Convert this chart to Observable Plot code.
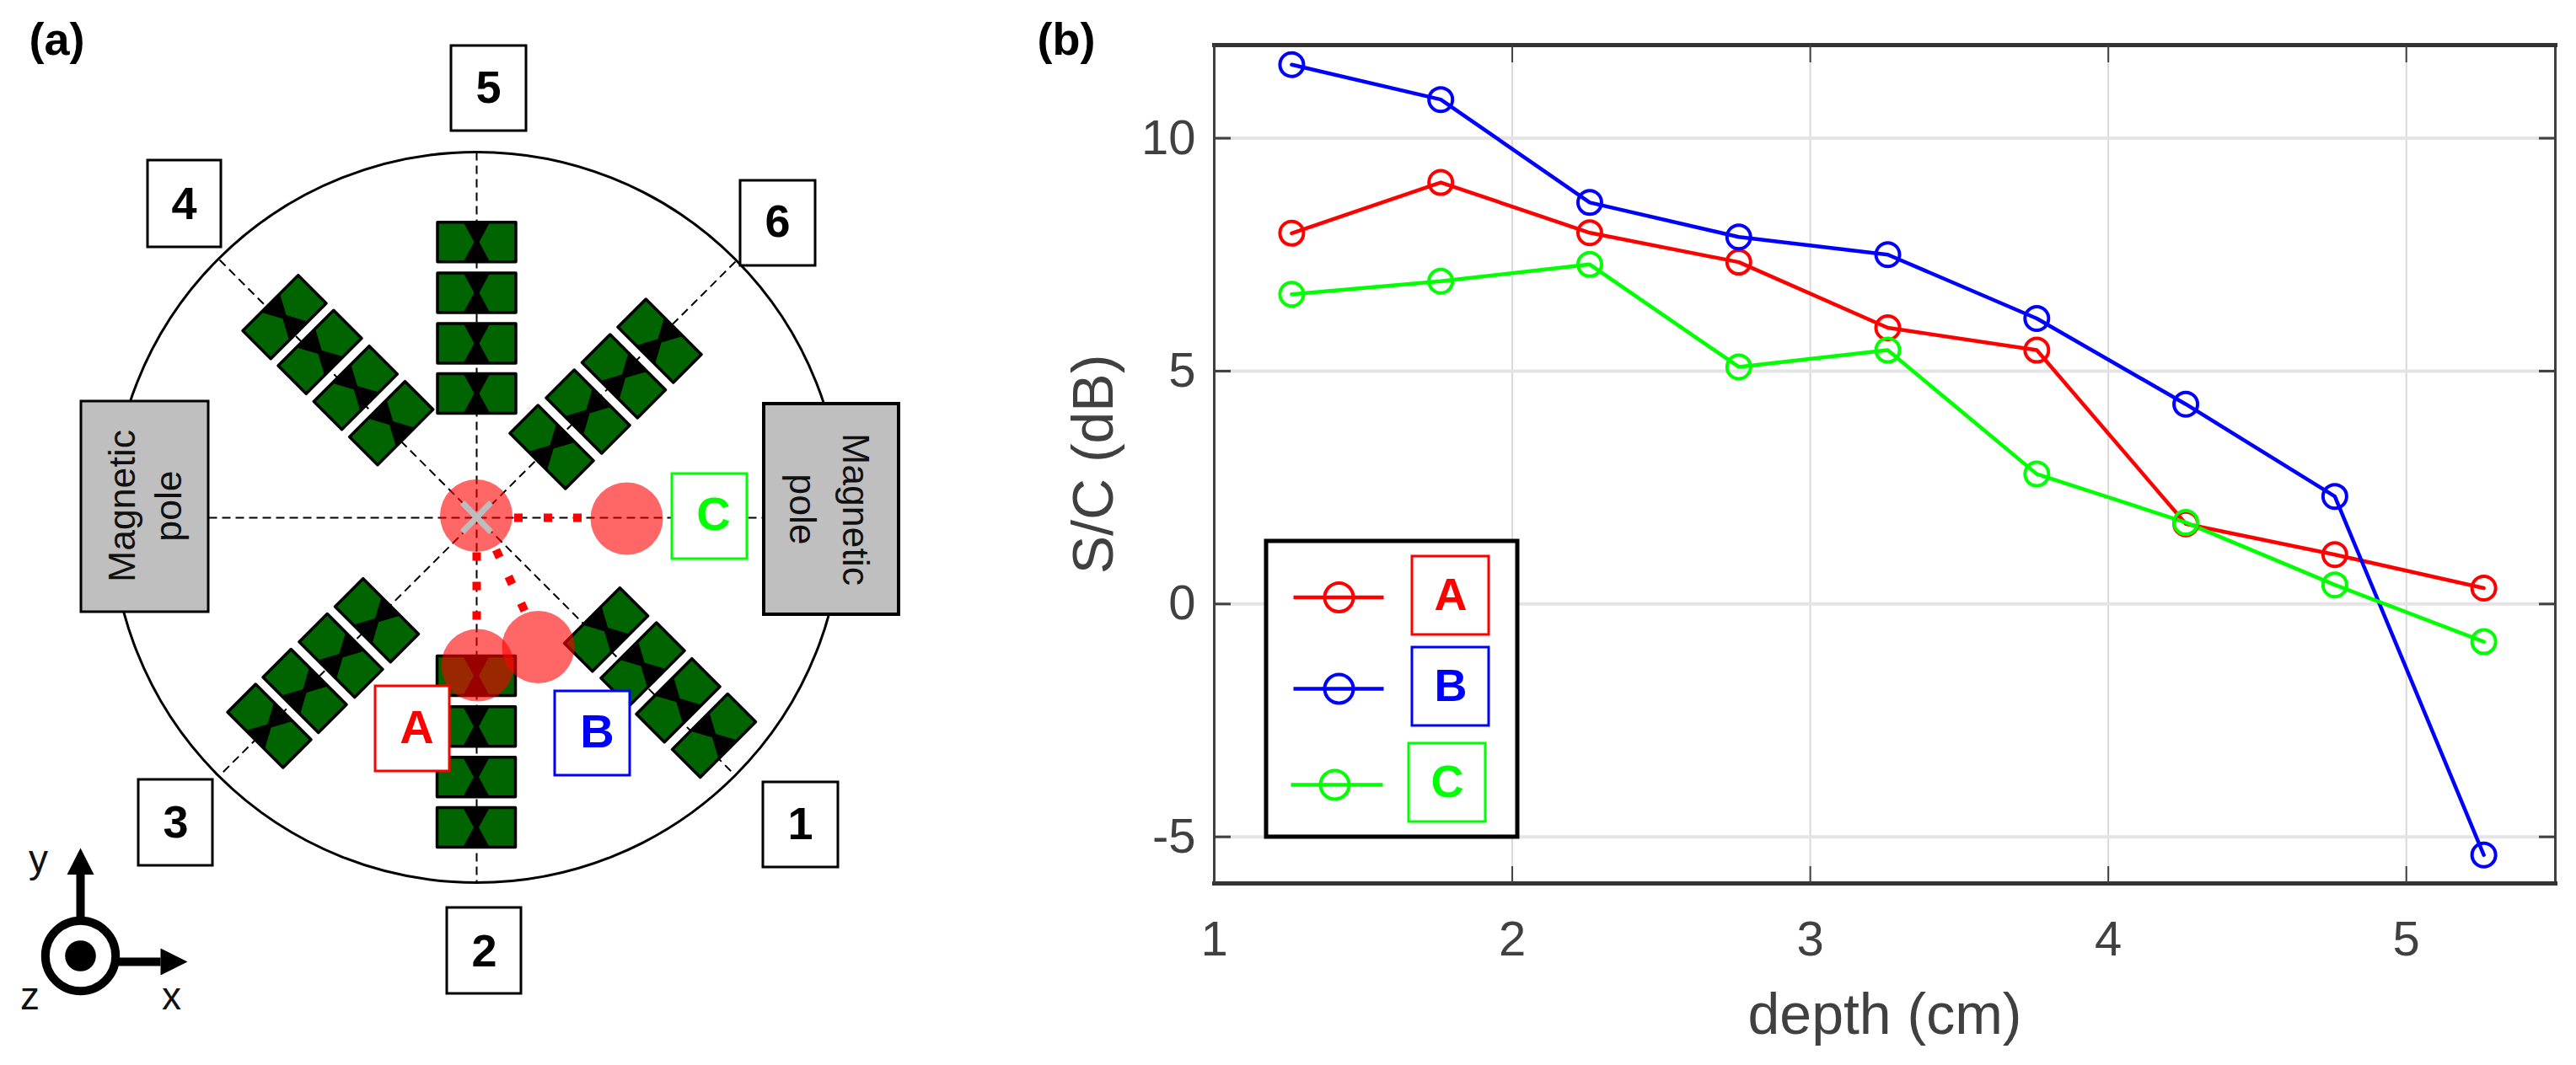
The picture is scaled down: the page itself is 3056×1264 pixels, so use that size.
<!DOCTYPE html>
<html>
<head>
<meta charset="utf-8">
<script src="https://cdn.jsdelivr.net/npm/d3@7"></script>
<script src="https://cdn.jsdelivr.net/npm/@observablehq/plot@0.6"></script>
<style>
html,body{margin:0;padding:0;background:#fff}
#page{position:relative;width:3056px;height:1264px;overflow:hidden}
#page svg{position:absolute;max-width:none}
</style>
</head>
<body>
<div id="page"></div>
<script>
const font = "Liberation Sans, Arial, sans-serif";

// ---- panel (b) data
const depth = [1.26, 1.76, 2.26, 2.76, 3.26, 3.76, 4.26, 4.76, 5.26];
const seriesA = [7.96, 9.05, 7.97, 7.34, 5.93, 5.45, 1.72, 1.06, 0.34];
const seriesB = [11.58, 10.83, 8.62, 7.88, 7.50, 6.13, 4.29, 2.31, -5.39];
const seriesC = [6.65, 6.93, 7.29, 5.09, 5.45, 2.79, 1.75, 0.41, -0.81];
const xTicks = [1, 2, 3, 4, 5];
const yTicks = [-5, 0, 5, 10];
const seriesList = [
  {name: "A", color: "#ff0000", values: seriesA},
  {name: "B", color: "#0000ff", values: seriesB},
  {name: "C", color: "#00ff00", values: seriesC}
];

// ---- panel (a) data, in the figure's own drawing units
const ringCentre = [565, 613.5];
const ringRadius = 433.5;
const spokes = [
  [565, 180, 565, 1047], [247, 614, 905, 614],
  [260, 308, 870, 918], [872, 310, 264, 916]
];
const arms = [
  {angle: 0, centres: [[565, 286.7], [565, 347], [565, 407], [565, 466.6]]},
  {angle: 0, centres: [[564.5, 801.5], [564.5, 861.7], [564.5, 921.7], [564.5, 981.5]]},
  {angle: Math.PI / 4, centres: [[782, 404], [739.5, 446], [697, 488], [654, 530]]},
  {angle: Math.PI / 4, centres: [[446.5, 735.7], [404, 777.6], [361, 819.5], [319, 861]]},
  {angle: -Math.PI / 4, centres: [[337, 375.7], [379, 417.3], [421.3, 459.7], [463.7, 501.7]]},
  {angle: -Math.PI / 4, centres: [[718.6, 746.7], [762, 788], [804, 830.7], [846.5, 872.6]]}
];
const blockOutline = [[-46.5, -23.5], [46.5, -23.5], [46.5, 23.5], [-46.5, 23.5]];
const hourglass = [[-16, -24], [16, -24], [3, 0], [16, 24], [-16, 24], [-3, 0]];
const poles = [
  {x1: 96, x2: 247, y1: 476, y2: 726, sw: 3},
  {x1: 906, x2: 1066, y1: 479, y2: 729, sw: 4}
];
const poleLabels = [
  {x: 145, y: 600, rotate: -90, text: "Magnetic"},
  {x: 200, y: 600, rotate: -90, text: "pole"},
  {x: 1014, y: 604, rotate: 90, text: "Magnetic"},
  {x: 951, y: 604, rotate: 90, text: "pole"}
];
const numberBoxes = [
  {label: "5", x1: 535, x2: 624, y1: 54, y2: 155, tx: 579, ty: 104},
  {label: "4", x1: 175, x2: 262, y1: 190, y2: 293, tx: 218, ty: 242},
  {label: "6", x1: 878, x2: 967, y1: 214, y2: 315, tx: 922, ty: 263},
  {label: "3", x1: 164, x2: 252, y1: 925, y2: 1027, tx: 208, ty: 976},
  {label: "1", x1: 905, x2: 994, y1: 928, y2: 1029, tx: 949, ty: 978},
  {label: "2", x1: 530, x2: 618, y1: 1077, y2: 1179, tx: 574, ty: 1129}
];
const letterBoxes = [
  {label: "A", color: "#ff0000", x1: 445, x2: 533, y1: 814, y2: 915, tx: 494, ty: 864},
  {label: "B", color: "#0000ff", x1: 658, x2: 747, y1: 820, y2: 920, tx: 708, ty: 869},
  {label: "C", color: "#00ff00", x1: 797, x2: 886, y1: 562, y2: 663, tx: 846, ty: 611}
];
const targets = [
  {x: 564.5, y: 611.5}, {x: 743, y: 615}, {x: 566, y: 789}, {x: 638, y: 767.5}
];
const probePaths = [
  [609.5, 614, 691, 614], [565, 655, 565, 735], [588, 652, 623, 727]
];
const crossArms = [[548, 596, 582, 631], [582, 596, 548, 631]];

// ---- axis glyph
const glyphCentre = {x: 95, y: 1134};
const glyphShafts = [[95, 1095, 95, 1037], [137, 1141, 190, 1141]];
const glyphHeads = [
  [[95, 1006], [79, 1037.5], [111, 1037.5]],
  [[222, 1141], [190, 1125], [190, 1157]]
];
const glyphLabels = [
  {t: "y", x: 45, y: 1020}, {t: "z", x: 35, y: 1183}, {t: "x", x: 203, y: 1183}
];

// ---- legend of panel (b)
const legendFrame = {x1: 1502, x2: 1800, y1: 642, y2: 993};
const legendRows = [
  {name: "A", color: "#ff0000", lx1: 1534, lx2: 1641, cx: 1588, cy: 708.5, bx1: 1675, bx2: 1766, by1: 660, by2: 753},
  {name: "B", color: "#0000ff", lx1: 1534, lx2: 1641, cx: 1588, cy: 817, bx1: 1675, bx2: 1766, by1: 768, by2: 861},
  {name: "C", color: "#00ff00", lx1: 1531, lx2: 1640, cx: 1583, cy: 931, bx1: 1671, bx2: 1762, by1: 882, by2: 975}
];
const panelLetters = [{t: "(a)", x: 34, y: 47}, {t: "(b)", x: 1230, y: 47}];

// ---- helpers that only turn lists into tables
const long = seriesList.flatMap(s => s.values.map((v, i) => ({name: s.name, color: s.color, depth: depth[i], value: v})));
const place = (shape, c, angle, id) => shape.map(([u, v]) => ({
  id, x: c[0] + u * Math.cos(angle) - v * Math.sin(angle), y: c[1] + u * Math.sin(angle) + v * Math.cos(angle)
}));
const blocks = arms.flatMap((a, i) => a.centres.flatMap((c, j) => place(blockOutline, c, a.angle, `${i}-${j}`)));
const glasses = arms.flatMap((a, i) => a.centres.flatMap((c, j) => place(hourglass, c, a.angle, `${i}-${j}`)));
const heads = glyphHeads.flatMap((h, i) => h.map(([x, y]) => ({id: i, x, y})));
const link = (arr, o) => Plot.link(arr, {x1: d => d[0], y1: d => d[1], x2: d => d[2], y2: d => d[3], ...o});

const textColor = "#404040";
const chart = Plot.plot({
  width: 1856, height: 1264,
  marginLeft: 240, marginRight: 25, marginTop: 53, marginBottom: 216,
  style: {background: "transparent", fontFamily: font},
  x: {domain: [1, 5.5], label: null},
  y: {domain: [-6, 12], label: null},
  marks: [
    Plot.gridX(xTicks, {stroke: "#d9d9d9", strokeOpacity: 1, strokeWidth: 2}),
    Plot.gridY(yTicks, {stroke: "#e4e4e4", strokeOpacity: 1, strokeWidth: 4}),
    Plot.frame({stroke: "#404040", strokeWidth: 3}),
    Plot.frame({anchor: "top", stroke: "#333", strokeWidth: 5}),
    Plot.frame({anchor: "bottom", stroke: "#333", strokeWidth: 5}),
    Plot.axisX({ticks: xTicks, anchor: "top", tickSize: -20, text: null, stroke: "#404040", strokeWidth: 2}),
    Plot.axisX({ticks: xTicks, anchor: "bottom", tickSize: -20, text: null, stroke: "#404040", strokeWidth: 2}),
    Plot.axisY({ticks: yTicks, anchor: "left", tickSize: -20, text: null, stroke: "#404040", strokeWidth: 3}),
    Plot.axisY({ticks: yTicks, anchor: "right", tickSize: -20, text: null, stroke: "#404040", strokeWidth: 3}),
    Plot.axisX({ticks: xTicks, anchor: "bottom", tickSize: 0, tickPadding: 44, fontSize: 58, fill: textColor, label: null, tickFormat: d => String(d)}),
    Plot.axisY({ticks: yTicks, anchor: "left", tickSize: 0, tickPadding: 22, fontSize: 58, fill: textColor, label: null, tickFormat: d => String(d)}),
    Plot.text(["depth (cm)"], {x: () => 3.25, frameAnchor: "bottom", dy: 178, fontSize: 68, fill: textColor, lineAnchor: "bottom"}),
    Plot.text(["S/C (dB)"], {y: () => 3, frameAnchor: "left", textAnchor: "middle", dx: -142, rotate: -90, fontSize: 68, fill: textColor}),
    ...seriesList.map(s => Plot.line(long.filter(d => d.name === s.name), {x: "depth", y: "value", stroke: s.color, strokeWidth: 4.5})),
    ...seriesList.map(s => Plot.dot(long.filter(d => d.name === s.name), {x: "depth", y: "value", r: 14, stroke: s.color, strokeWidth: 4, fill: "none"}))
  ]
});
chart.style.left = "1200px";
chart.style.top = "0";

const bold = {fontFamily: font, fontWeight: "bold"};
const overlay = Plot.plot({
  width: 3056, height: 1264, margin: 0,
  style: {background: "transparent", fontFamily: font},
  x: {domain: [0, 3056], range: [0, 3056], axis: null},
  y: {domain: [0, 1264], range: [0, 1264], axis: null},
  marks: [
    // panel (a)
    link(spokes, {stroke: "#000", strokeWidth: 2, strokeDasharray: "10 6"}),
    Plot.dot([ringCentre], {x: d => d[0], y: d => d[1], r: ringRadius, stroke: "#000", strokeWidth: 3, fill: "none"}),
    Plot.rect(poles, {x1: "x1", x2: "x2", y1: "y1", y2: "y2", fill: "#bfbfbf", stroke: "#000", strokeWidth: "sw"}),
    Plot.text(poleLabels, {x: "x", y: "y", text: "text", rotate: "rotate", fontSize: 44.6, fill: "#111"}),
    Plot.line(blocks, {x: "x", y: "y", z: "id", curve: "linear-closed", fill: "#006400", stroke: "#000", strokeWidth: 3.5}),
    Plot.line(glasses, {x: "x", y: "y", z: "id", curve: "linear-closed", fill: "#000", stroke: "none"}),
    Plot.dot(targets, {x: "x", y: "y", r: 43, fill: "#ff0000", fillOpacity: 0.6}),
    link(probePaths, {stroke: "#ff0000", strokeWidth: 10, strokeDasharray: "10 25"}),
    link(crossArms, {stroke: "#bdbdbd", strokeWidth: 7}),
    Plot.rect(numberBoxes, {x1: "x1", x2: "x2", y1: "y1", y2: "y2", fill: "#fff", stroke: "#000", strokeWidth: 3}),
    Plot.text(numberBoxes, {x: "tx", y: "ty", text: "label", fontSize: 54, fill: "#000", ...bold}),
    Plot.rect(letterBoxes, {x1: "x1", x2: "x2", y1: "y1", y2: "y2", fill: "#fff", stroke: "color", strokeWidth: 3}),
    Plot.text(letterBoxes, {x: "tx", y: "ty", text: "label", fontSize: 56, fill: "color", ...bold}),
    // axis glyph
    link(glyphShafts, {stroke: "#000", strokeWidth: 10}),
    Plot.line(heads, {x: "x", y: "y", z: "id", curve: "linear-closed", fill: "#000", stroke: "none"}),
    Plot.dot([glyphCentre], {x: "x", y: "y", r: 41.7, stroke: "#000", strokeWidth: 10, fill: "#fff"}),
    Plot.dot([glyphCentre], {x: "x", y: "y", r: 18.3, fill: "#000"}),
    Plot.text(glyphLabels, {x: "x", y: "y", text: "t", fontSize: 46, fill: "#111"}),
    // panel letters
    Plot.text(panelLetters, {x: "x", y: "y", text: "t", textAnchor: "start", fontSize: 54, fill: "#000", ...bold}),
    // legend of panel (b)
    Plot.rect([legendFrame], {x1: "x1", x2: "x2", y1: "y1", y2: "y2", fill: "#fff", stroke: "#000", strokeWidth: 5}),
    Plot.link(legendRows, {x1: "lx1", x2: "lx2", y1: "cy", y2: "cy", stroke: "color", strokeWidth: 4.5}),
    Plot.dot(legendRows, {x: "cx", y: "cy", r: 17, stroke: "color", strokeWidth: 4, fill: "none"}),
    Plot.rect(legendRows, {x1: "bx1", x2: "bx2", y1: "by1", y2: "by2", fill: "#fff", stroke: "color", strokeWidth: 3}),
    Plot.text(legendRows, {x: d => (d.bx1 + d.bx2) / 2, y: d => (d.by1 + d.by2) / 2, text: "name", fontSize: 54, fill: "color", ...bold})
  ]
});
overlay.style.left = "0";
overlay.style.top = "0";

const page = document.getElementById("page");
page.append(chart, overlay);
</script>
</body>
</html>
